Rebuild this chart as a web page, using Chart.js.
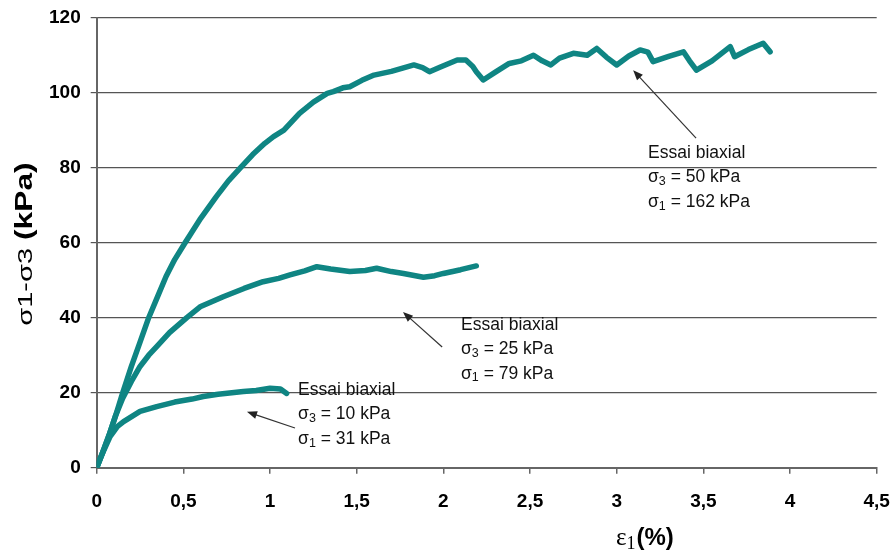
<!DOCTYPE html>
<html>
<head>
<meta charset="utf-8">
<script src="https://cdn.jsdelivr.net/npm/chart.js@4/dist/chart.umd.min.js"></script>
<style>
    html, body { margin: 0; padding: 0; background: #fff; }
    #wrap { width: 895px; height: 553px; position: relative; }
</style>
</head>
<body>
<div id="wrap"><canvas id="myChart"></canvas></div>
<script>
// strain eps1 (%) and deviator stress (kPa)
const eps50 = [0, 0.03, 0.07, 0.11, 0.15, 0.2, 0.25, 0.3, 0.35, 0.4, 0.45, 0.51, 0.6, 0.69, 0.76, 0.83, 0.9, 0.97, 1.02, 1.08, 1.17, 1.25, 1.33, 1.365, 1.42, 1.46, 1.53, 1.6, 1.7, 1.83, 1.88, 1.92, 1.98, 2.08, 2.13, 2.17, 2.19, 2.23, 2.3, 2.38, 2.45, 2.52, 2.57, 2.62, 2.67, 2.75, 2.83, 2.885, 2.94, 3.0, 3.07, 3.135, 3.18, 3.21, 3.3, 3.385, 3.42, 3.46, 3.55, 3.655, 3.68, 3.76, 3.845, 3.885];
const sig50 = [0, 3.5, 8.5, 14, 20, 27, 33.5, 40, 45.5, 51, 55.5, 60, 66.5, 72.3, 76.5, 80, 83.5, 86.5, 88.3, 90, 94.5, 97.5, 99.8, 100.3, 101.3, 101.6, 103.3, 104.7, 105.7, 107.4, 106.7, 105.6, 106.8, 108.7, 108.7, 107, 105.6, 103.4, 105.5, 107.8, 108.5, 110, 108.5, 107.4, 109.2, 110.5, 110, 111.8, 109.5, 107.4, 109.8, 111.4, 110.8, 108.3, 109.7, 110.9, 108.5, 106, 108.5, 112.3, 109.6, 111.5, 113.2, 110.9];

const eps25 = [0, 0.03, 0.07, 0.11, 0.15, 0.2, 0.25, 0.3, 0.35, 0.42, 0.52, 0.6, 0.73, 0.85, 0.96, 1.05, 1.115, 1.2, 1.27, 1.35, 1.46, 1.55, 1.615, 1.7, 1.77, 1.885, 1.95, 2.0, 2.1, 2.19];
const sig25 = [0, 3.5, 8.5, 14, 18.5, 23, 27, 30, 32.5, 36, 40, 43, 45.6, 47.8, 49.6, 50.5, 51.4, 52.5, 53.6, 53, 52.3, 52.6, 53.2, 52.3, 51.8, 50.8, 51.2, 51.8, 52.8, 53.8];

const eps10 = [0, 0.03, 0.077, 0.12, 0.155, 0.25, 0.346, 0.45, 0.55, 0.615, 0.7, 0.846, 0.92, 1.0, 1.06, 1.096];
const sig10 = [0, 3.5, 8.3, 11, 12.3, 15, 16.3, 17.5, 18.3, 19, 19.6, 20.3, 20.6, 21.2, 21, 19.8];

const xTicks = [0, 0.5, 1, 1.5, 2, 2.5, 3, 3.5, 4, 4.5];
const yTicks = [0, 20, 40, 60, 80, 100, 120];

const labelSig3 = ['10 kPa', '25 kPa', '50 kPa'];
const labelSig1 = ['31 kPa', '79 kPa', '162 kPa'];

// where the notes sit, in axis units: text anchor + arrow tail/head
const notes = [
    { tx: 1.162, ty: 20.7, ax: 1.144, ay: 10.6, hx: 0.867, hy: 14.9 },
    { tx: 2.102, ty: 38.1, ax: 1.993, ay: 32.2, hx: 1.767, hy: 41.5 },
    { tx: 3.181, ty: 83.9, ax: 3.458, ay: 87.9, hx: 3.095, hy: 106.0 }
];

const TEAL = '#0f8583';
const SANS = '"Liberation Sans", Arial, sans-serif';
const SERIF = '"Liberation Serif", "Times New Roman", serif';

function pts(xs, ys) {
    return xs.map((x, i) => ({ x: x, y: ys[i] }));
}

function arrow(ctx, x1, y1, x2, y2) {
    const a = Math.atan2(y2 - y1, x2 - x1);
    const len = 10, half = 4;
    ctx.strokeStyle = '#333';
    ctx.fillStyle = '#222';
    ctx.lineWidth = 1.2;
    ctx.beginPath();
    ctx.moveTo(x1, y1);
    ctx.lineTo(x2 - Math.cos(a) * len * 0.8, y2 - Math.sin(a) * len * 0.8);
    ctx.stroke();
    ctx.beginPath();
    ctx.moveTo(x2, y2);
    ctx.lineTo(x2 - Math.cos(a) * len + Math.sin(a) * half, y2 - Math.sin(a) * len - Math.cos(a) * half);
    ctx.lineTo(x2 - Math.cos(a) * len - Math.sin(a) * half, y2 - Math.sin(a) * len + Math.cos(a) * half);
    ctx.closePath();
    ctx.fill();
}

// sigma with a small index, then the rest of the line
function sigmaLine(ctx, x, y, idx, rest) {
    ctx.font = '17.5px ' + SANS;
    ctx.fillText('\u03c3', x, y);
    let w = ctx.measureText('\u03c3').width;
    ctx.font = '12.5px ' + SANS;
    ctx.fillText(idx, x + w, y + 4);
    w += ctx.measureText(idx).width;
    ctx.font = '17.5px ' + SANS;
    ctx.fillText(' = ' + rest, x + w, y);
}

const notesPlugin = {
    id: 'notes',
    afterDraw(chart) {
        const ctx = chart.ctx;
        const sx = chart.scales.x, sy = chart.scales.y;
        ctx.save();
        notes.forEach((n, i) => {
            arrow(ctx, sx.getPixelForValue(n.ax), sy.getPixelForValue(n.ay),
                sx.getPixelForValue(n.hx), sy.getPixelForValue(n.hy));
            const x = sx.getPixelForValue(n.tx);
            const y = sy.getPixelForValue(n.ty);
            ctx.fillStyle = '#111';
            ctx.textBaseline = 'middle';
            ctx.textAlign = 'left';
            ctx.font = '17.5px ' + SANS;
            ctx.fillText('Essai biaxial', x, y);
            sigmaLine(ctx, x, y + 24.5, '3', labelSig3[i]);
            sigmaLine(ctx, x, y + 49, '1', labelSig1[i]);
        });

        // x axis title  eps1(%)
        ctx.fillStyle = '#000';
        ctx.textBaseline = 'alphabetic';
        let x = 616;
        const base = 545;
        ctx.font = '25px ' + SERIF;
        ctx.fillText('\u03b5', x, base);
        x += ctx.measureText('\u03b5').width;
        ctx.font = '18px ' + SERIF;
        ctx.fillText('1', x, base + 4);
        x += ctx.measureText('1').width + 1;
        ctx.font = 'bold 24px ' + SANS;
        ctx.fillText('(%)', x, base);

        // y axis title  sigma1-sigma3 (kPa), stretched along the text like the original
        ctx.translate(32, 244);
        ctx.rotate(-Math.PI / 2);
        ctx.scale(1.38, 1);
        const a = '\u03c31-\u03c33 ';
        const b = '(kPa)';
        ctx.font = 'bold 23px ' + SANS;
        const wb = ctx.measureText(b).width;
        ctx.font = '21px ' + SANS;
        const wa = ctx.measureText(a).width;
        const p = -(wa + wb) / 2;
        ctx.fillText(a, p, 0);
        ctx.font = 'bold 23px ' + SANS;
        ctx.fillText(b, p + wa, 0);
        ctx.restore();
    }
};

const line = (data) => ({
    data: data,
    borderColor: TEAL,
    borderWidth: 5.5,
    pointRadius: 0,
    tension: 0,
    fill: false,
    borderJoinStyle: 'round',
    borderCapStyle: 'round'
});

new Chart(document.getElementById('myChart').getContext('2d'), {
    type: 'line',
    data: {
        datasets: [
            line(pts(eps50, sig50)),
            line(pts(eps25, sig25)),
            line(pts(eps10, sig10))
        ]
    },
    options: {
        responsive: true,
        maintainAspectRatio: false,
        animation: false,
        layout: { padding: { top: 17.7, right: 18.3, left: 0, bottom: 0 } },
        plugins: { legend: { display: false }, tooltip: { enabled: false } },
        scales: {
            x: {
                type: 'linear',
                min: 0,
                max: 4.5,
                afterBuildTicks: (s) => { s.ticks = xTicks.map(v => ({ value: v })); },
                afterFit: (s) => { s.height = 85.3; s.paddingLeft = 0; s.paddingRight = 0; },
                ticks: {
                    color: '#000',
                    padding: 17,
                    maxRotation: 0,
                    font: { family: SANS, size: 19, weight: 'bold' },
                    callback: (v) => String(v).replace('.', ',')
                },
                grid: { drawOnChartArea: false, drawTicks: true, tickLength: 6, color: '#666', lineWidth: 1.5 },
                border: { color: '#666', width: 2 }
            },
            y: {
                min: 0,
                max: 120,
                afterBuildTicks: (s) => { s.ticks = yTicks.map(v => ({ value: v })); },
                afterFit: (s) => { s.width = 96.7; s.paddingTop = 0; s.paddingBottom = 0; },
                ticks: {
                    color: '#000',
                    padding: 10,
                    font: { family: SANS, size: 19, weight: 'bold' }
                },
                grid: { color: '#555', lineWidth: 1.2, tickLength: 6 },
                border: { color: '#666', width: 2 }
            }
        }
    },
    plugins: [notesPlugin]
});
</script>
</body>
</html>
